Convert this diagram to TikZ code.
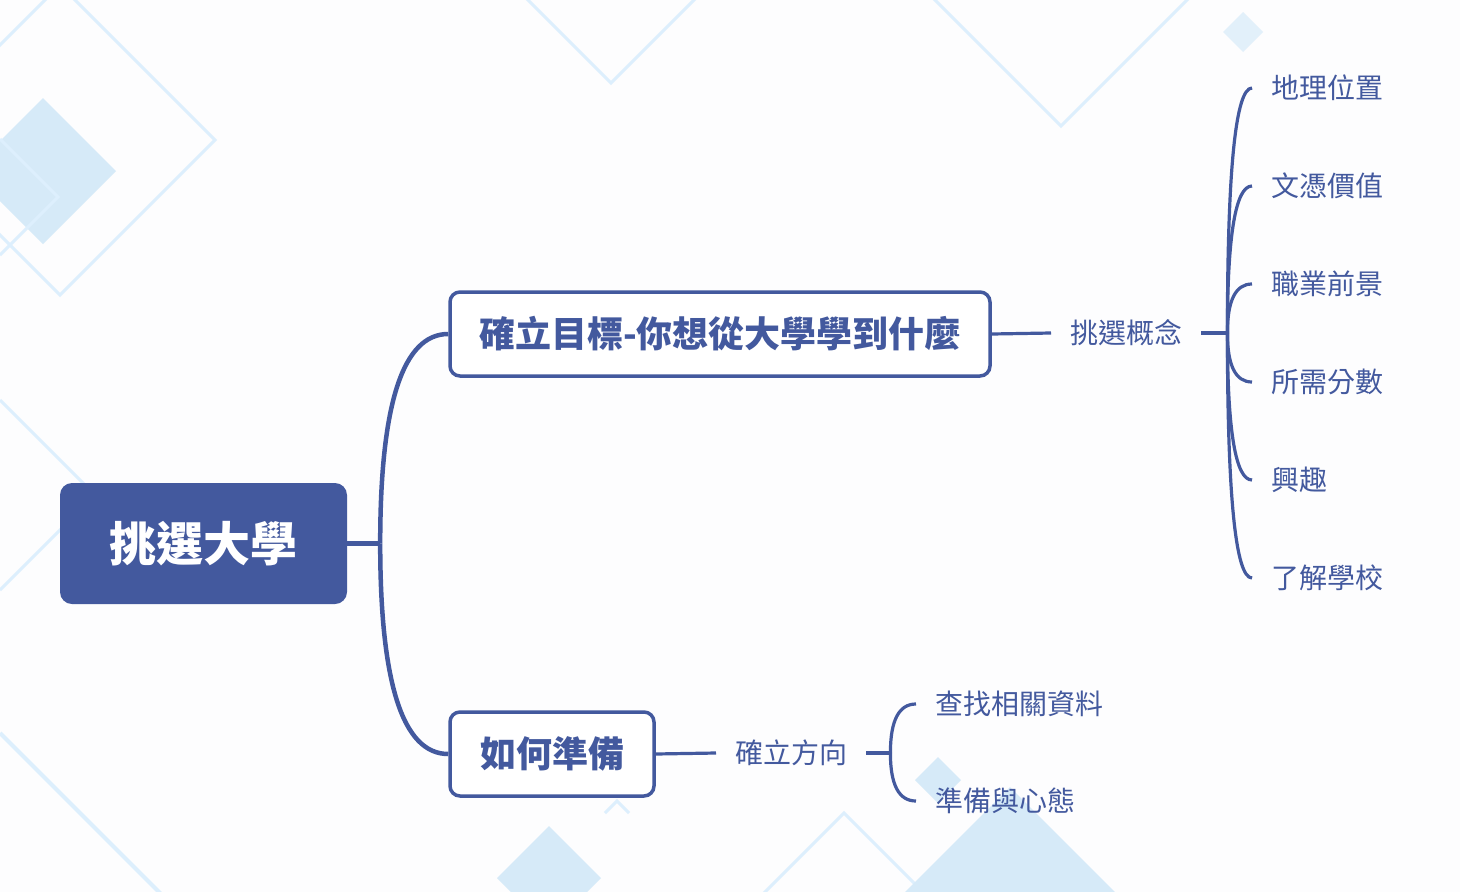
\documentclass[tikz,border=0pt]{standalone}
\usepackage{fontspec}
\newfontfamily\cjk{Noto Sans CJK TC}
\usetikzlibrary{calc}

\definecolor{mindblue}{RGB}{67,89,158}
\definecolor{paleline}{RGB}{221,239,253}
\definecolor{palefill}{RGB}{214,234,248}
\definecolor{pagebg}{RGB}{253,253,254}

\tikzset{
  rootbox/.style={fill=mindblue, text=white, rounded corners=12pt, inner sep=0pt,
    minimum width=287pt, minimum height=121pt, font=\cjk\bfseries\fontsize{47}{47}\selectfont},
  topicbox/.style={draw=mindblue, line width=3.5pt, fill=white, text=mindblue, rounded corners=10pt,
    inner sep=0pt, minimum width=540pt, minimum height=84pt, font=\cjk\bfseries\fontsize{36}{36}\selectfont},
  subtopic/.style={anchor=west, text=mindblue, inner xsep=19pt, inner ysep=0pt,
    font=\cjk\fontsize{28}{28}\selectfont},
  leaf/.style={subtopic},
  branch/.style={draw=mindblue, line width=4.5pt},
  twig/.style={draw=mindblue, line width=3.2pt},
  curvy/.style={to path={.. controls ($(\tikztostart)!0.667!(\tikztostart|-\tikztotarget)$)
    and ($(\tikztotarget)!0.667!(\tikztostart|-\tikztotarget)$) .. (\tikztotarget)}},
  bgline/.style={draw=paleline, line width=3pt},
  bgfill/.style={fill=palefill}
}

\begin{document}
\begin{tikzpicture}[x=1pt,y=-1pt]
    \useasboundingbox (0,0) rectangle (1460,892);
    \clip (0,0) rectangle (1460,892);
    \fill[pagebg] (0,0) rectangle (1460,892);

    % background diamonds
    \fill[bgfill] (43,98)--++(73,73)--++(-73,73)--++(-73,-73)--cycle;
    \draw[bgline] (60,-15)--++(155,155)--++(-155,155)--++(-155,-155)--cycle;
    \draw[bgline] (0,139)--++(58,58)--++(-58,58);
    \draw[bgline] (611,-87)--++(85,85)--++(-85,85)--++(-85,-85)--cycle;
    \draw[bgline] (1061,-126)--++(126,126)--++(-126,126)--++(-126,-126)--cycle;
    \fill[palefill!70!white] (1243,12)--++(20,20)--++(-20,20)--++(-20,-20)--cycle;
    \draw[bgline] (0,400)--++(95,95)--++(-95,95);
    \draw[bgline, line width=4pt] (0,733)--++(170,170);
    \draw[bgline] (605,813)--++(12,-12)--++(12,12);
    \fill[bgfill] (549,826)--++(52,52)--++(-52,52)--++(-52,-52)--cycle;
    \draw[bgline] (844,813)--++(90,90)--++(-90,90)--++(-90,-90)--cycle;
    \fill[bgfill] (938,757)--++(23,23)--++(-23,23)--++(-23,-23)--cycle;
    \fill[bgfill] (1010,787)--++(110,110)--++(-110,110)--++(-110,-110)--cycle;

    % nodes
    \node[rootbox] (root) at (203.5,543.5) {挑選大學};
    \node[topicbox] (goal) at (720,334) {確立目標-你想從大學學到什麼};
    \node[topicbox, minimum width=204pt] (prep) at (552,754) {如何準備};

    \node[subtopic] (concept) at (1051,333) {挑選概念};
    \foreach \txt [count=\i] in {地理位置,文憑價值,職業前景,所需分數,興趣,了解學校}
        \node[leaf] (leaf\i) at (1252,{88+98*(\i-1)}) {\txt};

    \node[subtopic] (direction) at (716,753) {確立方向};
    \node[leaf] (search) at (916,704) {查找相關資料};
    \node[leaf] (mind) at (916,801) {準備與心態};

    \coordinate (j1) at ([xshift=33pt]root.east);
    \coordinate (j2) at ([xshift=26pt]concept.east);
    \coordinate (j3) at ([xshift=24pt]direction.east);

    % connectors
    \draw[branch] (root.east) -- (j1);
    \draw[branch] (j1) to[curvy] (goal.west);
    \draw[branch] (j1) to[curvy] (prep.west);

    \draw[twig] (goal.east) -- (concept.west);
    \draw[twig] (concept.east) -- (j2);
    \foreach \i in {1,...,6}
        \draw[twig] (j2) to[curvy] (leaf\i.west);

    \draw[twig] (prep.east) -- (direction.west);
    \draw[twig] (direction.east) -- (j3);
    \draw[twig] (j3) to[curvy] (search.west);
    \draw[twig] (j3) to[curvy] (mind.west);
\end{tikzpicture}
\end{document}
